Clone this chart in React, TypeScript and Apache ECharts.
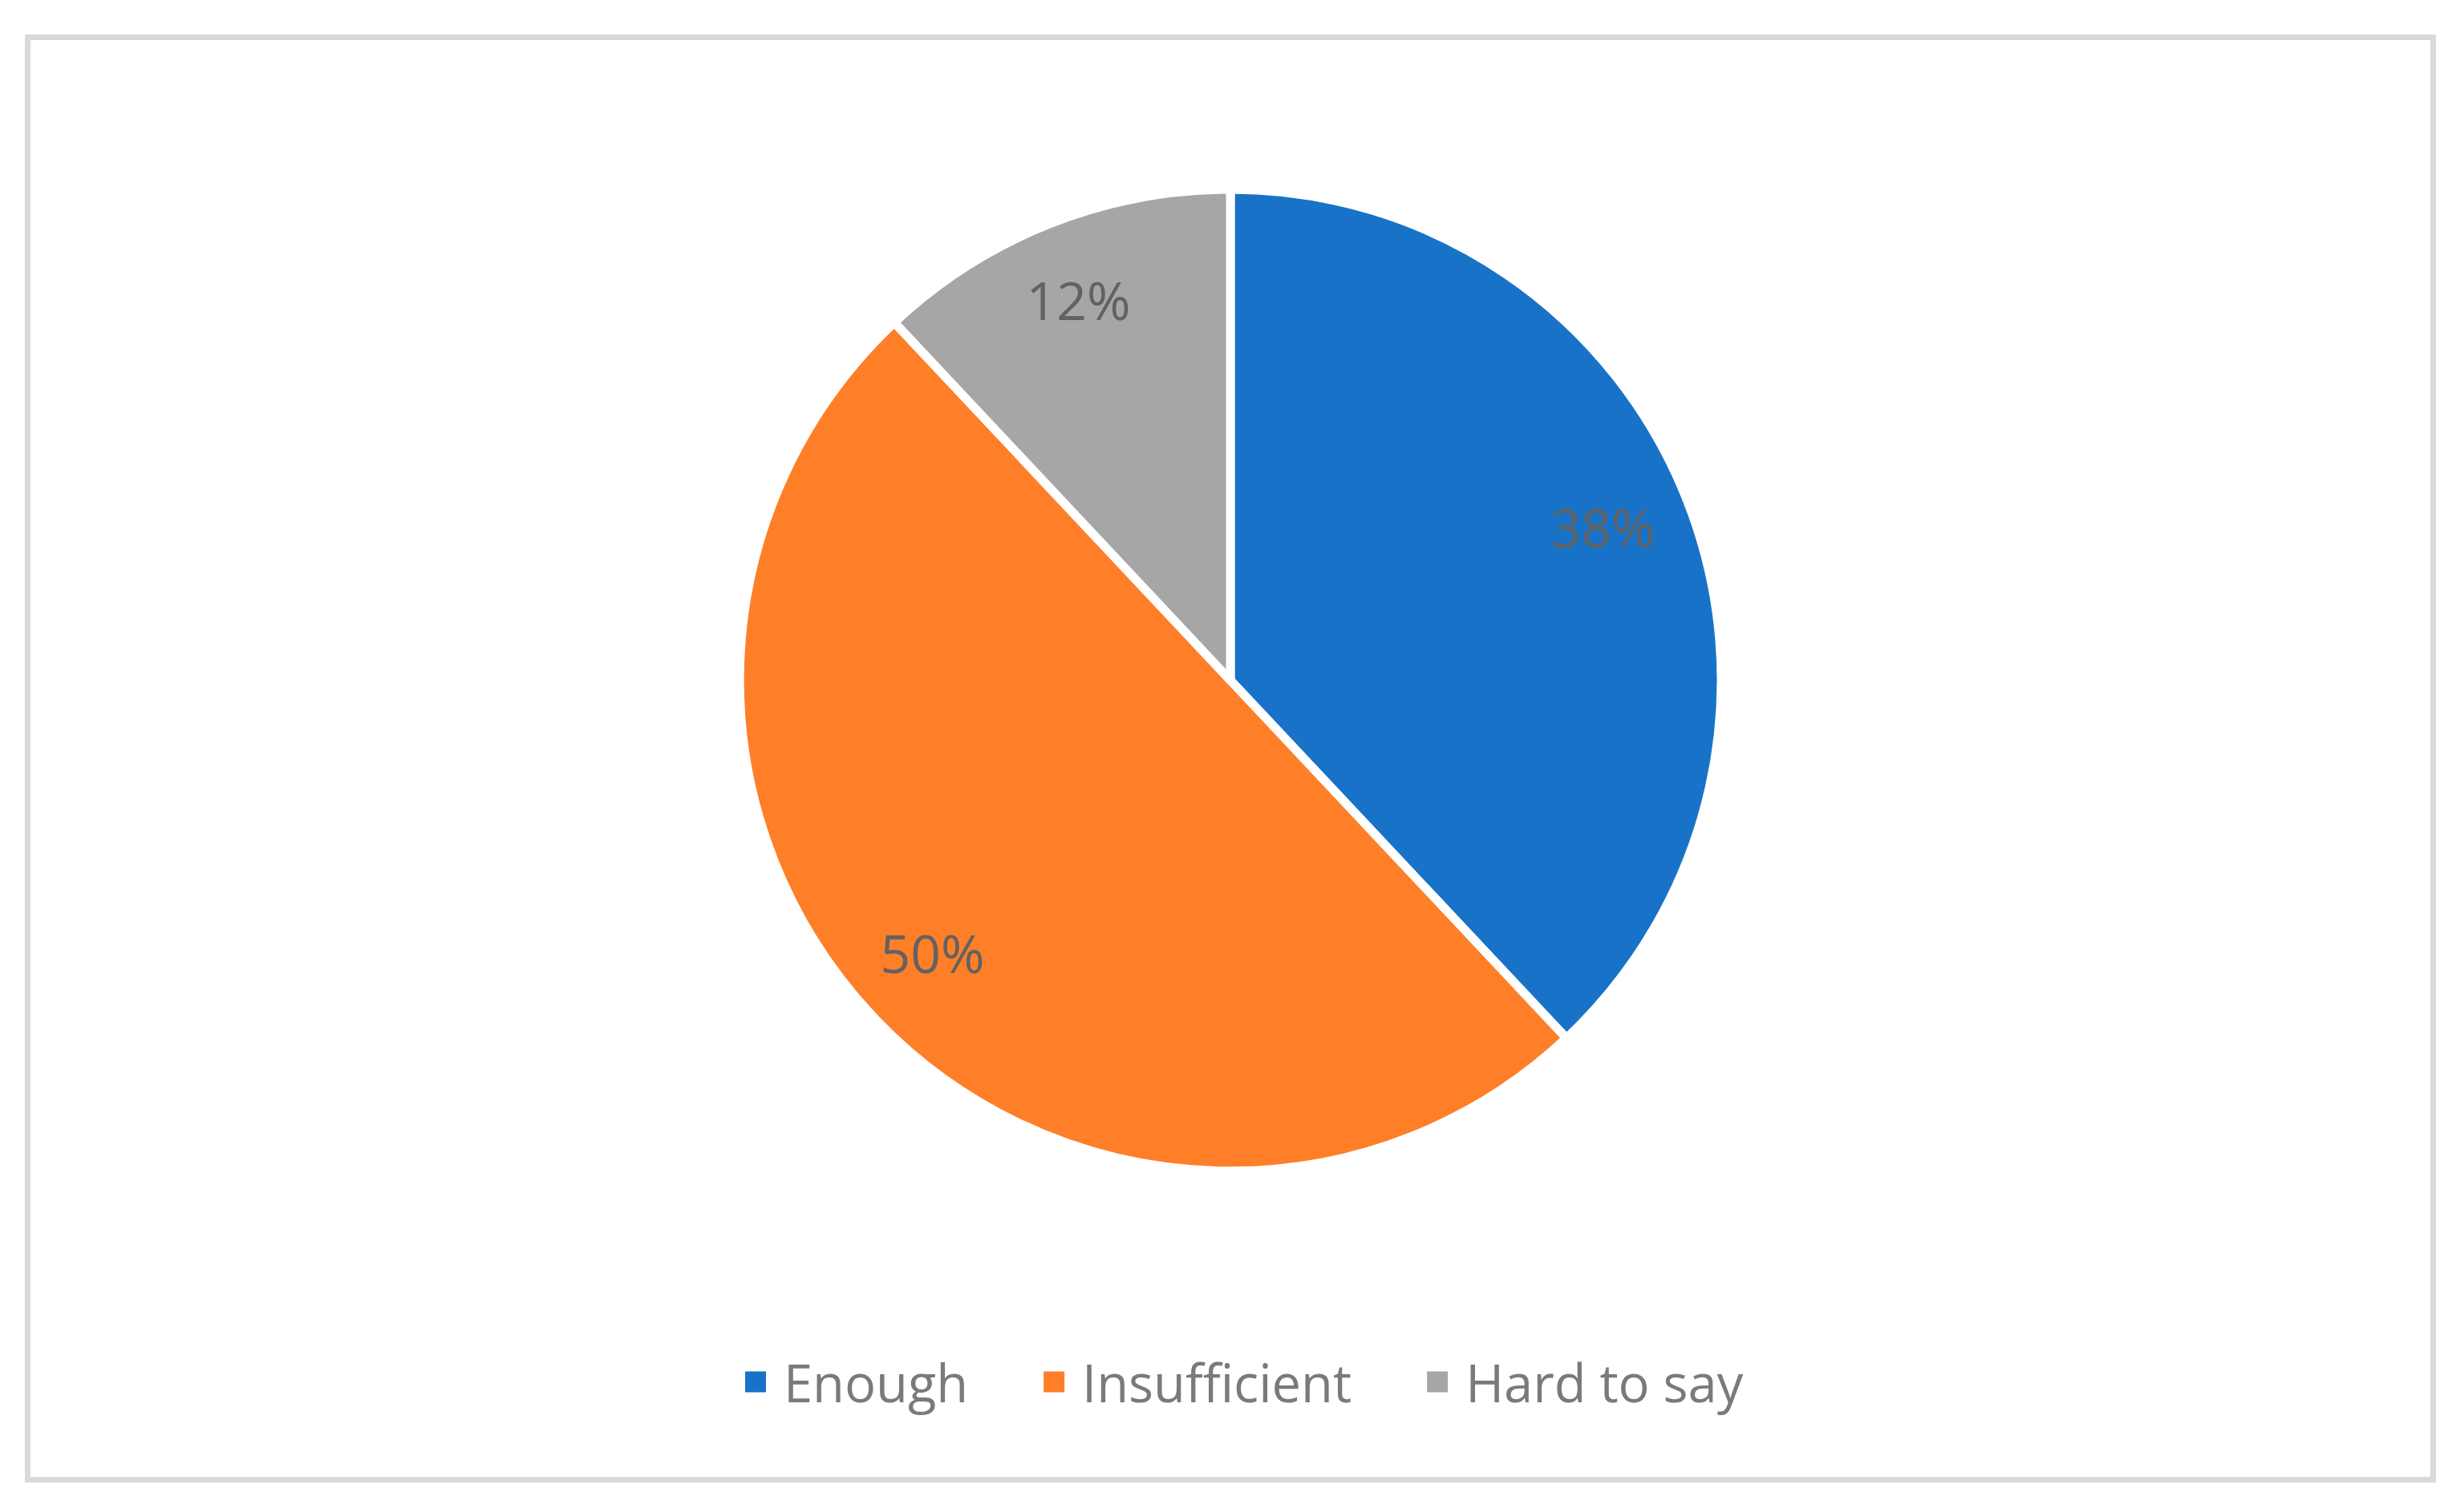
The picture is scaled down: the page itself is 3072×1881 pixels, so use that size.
import React, { useEffect, useRef } from "react";
import * as echarts from "echarts";

const categories = ["Enough", "Insufficient", "Hard to say"];
const values = [38, 50, 12];
const colors = ["#1873C8", "#FE7F27", "#A6A6A6"];

export default function App() {
  const ref = useRef<HTMLDivElement>(null);
  useEffect(() => {
    document.body.style.margin = "0";
    const chart = echarts.init(ref.current!, null, { renderer: "svg" });
    const data = categories.map((name, i) => ({
      name,
      value: values[i],
      itemStyle: { color: colors[i] },
    }));
    const labelData = categories.map((name, i) => ({ name, value: values[i] }));
    chart.setOption({
      animation: false,
      backgroundColor: "#ffffff",
      graphic: [
        {
          type: "rect",
          shape: { x: 34.5, y: 46.5, width: 2999, height: 1798 },
          style: { fill: "#ffffff", stroke: "#D9D9D9", lineWidth: 7 },
          z: -10,
          silent: true,
        },
      ],
      legend: {
        data: categories,
        left: 927,
        top: 1690,
        padding: 0,
        itemWidth: 28,
        itemHeight: 28,
        itemGap: 92,
        icon: "rect",
        textStyle: {
          fontFamily: "Open Sans",
          fontSize: 65,
          color: "#7A7A7A",
          padding: [0, 0, 0, 16],
        },
      },
      series: [
        {
          type: "pie",
          center: [1534, 848],
          radius: [0, 612],
          startAngle: 90,
          clockwise: true,
          data,
          itemStyle: { borderColor: "#ffffff", borderWidth: 11 },
          label: { show: false },
          labelLine: { show: false },
          silent: true,
        },
        {
          type: "pie",
          center: [1534, 848],
          radius: [390, 612],
          startAngle: 90,
          clockwise: true,
          data: labelData,
          itemStyle: { color: "rgba(0,0,0,0)", borderWidth: 0 },
          label: {
            show: true,
            position: "inside",
            formatter: "{c}%",
            fontFamily: "Open Sans",
            fontSize: 66,
            color: "#626262",
            offset: [-4, -6],
          },
          labelLine: { show: false },
          emphasis: { disabled: true },
          silent: true,
        },
      ],
    });
    return () => chart.dispose();
  }, []);
  return (
    <div
      ref={ref}
      style={{ position: "absolute", left: 0, top: 0, width: 3072, height: 1881 }}
    />
  );
}
